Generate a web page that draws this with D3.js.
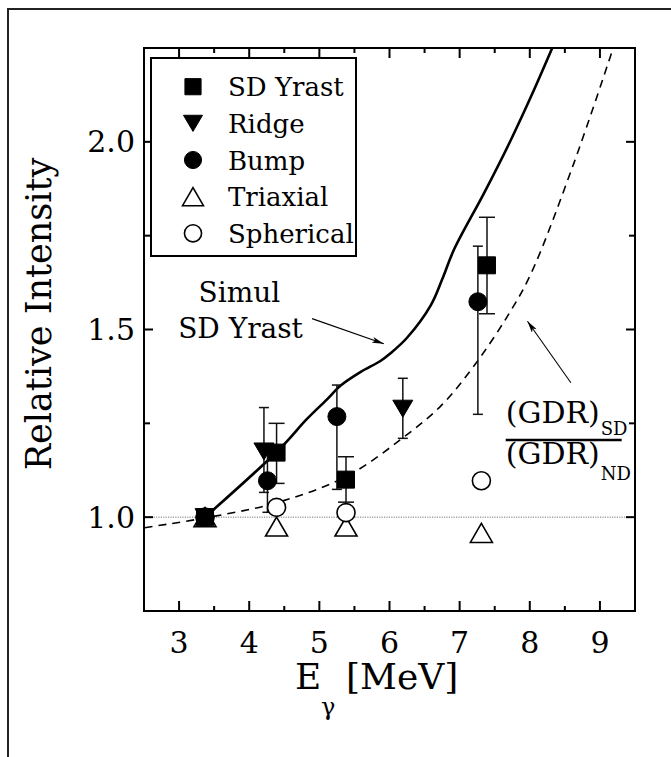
<!DOCTYPE html>
<html>
<head>
<meta charset="utf-8">
<script src="https://cdn.jsdelivr.net/npm/d3@7"></script>
</head>
<body style="margin:0">
<div id="chart"></div>
<script>
// Relative intensity vs gamma energy

const xMajorTicks = [3, 4, 5, 6, 7, 8, 9];
const xMinorTicks = [3.5, 4.5, 5.5, 6.5, 7.5, 8.5];
const yMajorTicks = [1.0, 1.5, 2.0];
const yMinorTicks = [1.25, 1.75];

const sdYrastX = [3.37, 4.39, 5.38, 7.39];
const sdYrastY = [1.0, 1.172, 1.10, 1.671];
const sdYrastLo = [null, 1.09, 1.04, 1.542];
const sdYrastHi = [null, 1.25, 1.161, 1.799];

const ridgeX = [3.37, 4.21, 6.19];
const ridgeY = [1.0, 1.175, 1.289];
const ridgeLo = [null, 1.066, 1.21];
const ridgeHi = [null, 1.292, 1.37];

const bumpX = [3.37, 4.26, 5.25, 7.26];
const bumpY = [1.0, 1.097, 1.268, 1.574];
const bumpLo = [null, 1.013, 1.074, 1.274];
const bumpHi = [null, 1.18, 1.352, 1.722];

const triaxialX = [3.37, 4.39, 5.38, 7.31];
const triaxialY = [1.0, 0.975, 0.975, 0.958];

const sphericalX = [3.37, 4.39, 5.38, 7.31];
const sphericalY = [1.0, 1.026, 1.012, 1.097];

// simulated SD yrast curve (solid)
const simulX = [3.37, 4.43, 4.82, 5.11, 5.30, 5.59, 5.87, 6.01, 6.25, 6.59, 6.75, 6.92, 7.35, 7.73, 8.04, 8.32];
const simulY = [1.0, 1.181, 1.261, 1.314, 1.350, 1.387, 1.416, 1.436, 1.478, 1.565, 1.633, 1.713, 1.864, 2.005, 2.13, 2.25];

// (GDR)SD / (GDR)ND ratio (dashed)
const gdrX = [2.51, 3.37, 4.40, 5.40, 6.16, 6.73, 7.20, 7.68, 8.01, 8.63, 9.18];
const gdrY = [0.972, 0.998, 1.039, 1.11, 1.207, 1.296, 1.402, 1.535, 1.646, 1.944, 2.245];

const legendLabels = ['SD Yrast', 'Ridge', 'Bump', 'Triaxial', 'Spherical'];
const legendKinds = ['square', 'triDown', 'circle', 'triUp', 'circleOpen'];

const FONT = '"DejaVu Serif"';
const W = 671, H = 757;
const margin = { top: 48, right: 36, bottom: 146, left: 144 };
const width = W - margin.left - margin.right;
const height = H - margin.top - margin.bottom;

const addText = (parent, size) => parent.append('text')
    .attr('font-size', size)
    .style('font-family', FONT);

const svg = d3.select('#chart').append('svg')
    .attr('width', W)
    .attr('height', H);

svg.append('rect').attr('width', W).attr('height', H).attr('fill', '#fff');

// outer page frame (top and left edges only)
svg.append('path')
    .attr('d', `M8,${H} L8,9 L${W},9`)
    .attr('fill', 'none')
    .attr('stroke', '#222')
    .attr('stroke-width', 2);

const x = d3.scaleLinear().domain([2.5, 9.5]).range([0, width]);
const y = d3.scaleLinear().domain([0.75, 2.25]).range([height, 0]);

const g = svg.append('g').attr('transform', `translate(${margin.left},${margin.top})`);

const defs = svg.append('defs');
defs.append('clipPath').attr('id', 'plotClip')
    .append('rect').attr('width', width).attr('height', height);
defs.append('marker')
    .attr('id', 'arrow')
    .attr('viewBox', '0 0 12 6')
    .attr('refX', 12).attr('refY', 3)
    .attr('markerWidth', 12).attr('markerHeight', 6)
    .attr('markerUnits', 'userSpaceOnUse')
    .attr('orient', 'auto')
    .append('path')
    .attr('d', 'M0,0 L12,3 L0,6 L3,3 Z')
    .attr('fill', '#000');

// symbol path centred on its bounding box
const symbolPath = (kind, s = 1) => {
    switch (kind) {
        case 'square': {
            const h = 8.5 * s;
            return `M${-h},${-h}H${h}V${h}H${-h}Z`;
        }
        case 'triDown': {
            const w = 10 * s, h = 8.5 * s;
            return `M${-w},${-h}L${w},${-h}L0,${h}Z`;
        }
        case 'triUp': {
            const w = 11 * s, h = 9.5 * s;
            return `M0,${-h}L${w},${h}L${-w},${h}Z`;
        }
        default: {
            const r = 9 * s;
            return `M${-r},0A${r},${r} 0 1,0 ${r},0A${r},${r} 0 1,0 ${-r},0Z`;
        }
    }
};

const styleSymbol = (sel, kind) => {
    const open = kind === 'triUp' || kind === 'circleOpen';
    sel.attr('fill', open ? '#fff' : '#000')
        .attr('stroke', '#000')
        .attr('stroke-width', open ? 1.6 : 1);
};

// y = 1.0 reference line
g.append('line')
    .attr('x1', 0).attr('x2', width)
    .attr('y1', y(1.0)).attr('y2', y(1.0))
    .attr('stroke', '#777')
    .attr('stroke-width', 1)
    .attr('stroke-dasharray', '1.2,1.2');

const plot = g.append('g').attr('clip-path', 'url(#plotClip)');

const line = d3.line()
    .x(d => x(d[0]))
    .y(d => y(d[1]))
    .curve(d3.curveCatmullRom.alpha(0.5));

plot.append('path')
    .datum(gdrX.map((v, i) => [v, gdrY[i]]))
    .attr('fill', 'none')
    .attr('stroke', '#000')
    .attr('stroke-width', 1.6)
    .attr('stroke-dasharray', '8,6')
    .attr('d', line);

plot.append('path')
    .datum(simulX.map((v, i) => [v, simulY[i]]))
    .attr('fill', 'none')
    .attr('stroke', '#000')
    .attr('stroke-width', 2.6)
    .attr('d', line);

// error bars
const errorSets = [
    { xs: sdYrastX, lo: sdYrastLo, hi: sdYrastHi, cap: 16 },
    { xs: ridgeX, lo: ridgeLo, hi: ridgeHi, cap: 10 },
    { xs: bumpX, lo: bumpLo, hi: bumpHi, cap: 10 }
];
errorSets.forEach(s => {
    s.xs.forEach((xv, i) => {
        if (s.lo[i] == null) return;
        const px = x(xv);
        const eg = g.append('g').attr('stroke', '#111').attr('stroke-width', 1.5);
        eg.append('line').attr('x1', px).attr('x2', px).attr('y1', y(s.lo[i])).attr('y2', y(s.hi[i]));
        [s.lo[i], s.hi[i]].forEach(v => {
            eg.append('line')
                .attr('x1', px - s.cap / 2).attr('x2', px + s.cap / 2)
                .attr('y1', y(v)).attr('y2', y(v));
        });
    });
});

// markers
const series = [
    { xs: triaxialX, ys: triaxialY, kind: 'triUp' },
    { xs: sphericalX, ys: sphericalY, kind: 'circleOpen' },
    { xs: sdYrastX, ys: sdYrastY, kind: 'square' },
    { xs: ridgeX, ys: ridgeY, kind: 'triDown' },
    { xs: bumpX, ys: bumpY, kind: 'circle' }
];
series.forEach(s => {
    g.selectAll(null)
        .data(s.xs.map((v, i) => [v, s.ys[i]]))
        .join('path')
        .attr('transform', d => `translate(${x(d[0])},${y(d[1])})`)
        .attr('d', symbolPath(s.kind))
        .call(styleSymbol, s.kind);
});

// axes frame
g.append('rect')
    .attr('width', width).attr('height', height)
    .attr('fill', 'none')
    .attr('stroke', '#000')
    .attr('stroke-width', 2);

const tickG = g.append('g').attr('stroke', '#000').attr('stroke-width', 2);
const addXTicks = (ticks, len) => ticks.forEach(t => {
    tickG.append('line').attr('x1', x(t)).attr('x2', x(t)).attr('y1', height).attr('y2', height - len);
    tickG.append('line').attr('x1', x(t)).attr('x2', x(t)).attr('y1', 0).attr('y2', len);
});
const addYTicks = (ticks, len) => ticks.forEach(t => {
    tickG.append('line').attr('x1', 0).attr('x2', len).attr('y1', y(t)).attr('y2', y(t));
    tickG.append('line').attr('x1', width).attr('x2', width - len).attr('y1', y(t)).attr('y2', y(t));
});
addXTicks(xMajorTicks, 10);
addXTicks(xMinorTicks, 5);
addYTicks(yMajorTicks, 9);
addYTicks(yMinorTicks, 6);

xMajorTicks.forEach(t => {
    addText(g, 30)
        .attr('x', x(t))
        .attr('y', height + 42)
        .attr('text-anchor', 'middle')
        .text(t);
});

yMajorTicks.forEach(t => {
    addText(g, 30)
        .attr('x', -9)
        .attr('y', y(t) + 10.5)
        .attr('text-anchor', 'end')
        .text(t.toFixed(1));
});

// axis titles
addText(svg, 35)
    .attr('transform', 'translate(51,314) rotate(-90)')
    .attr('text-anchor', 'middle')
    .text('Relative Intensity');

addText(svg, 36).attr('x', 295).attr('y', 689).text('E');
addText(svg, 24).attr('x', 321).attr('y', 715).text('γ');
addText(svg, 36).attr('x', 346).attr('y', 689).text('[MeV]');

// annotations
addText(g, 28)
    .attr('x', x(3.86)).attr('y', y(1.573))
    .attr('text-anchor', 'middle')
    .text('Simul');
addText(g, 28)
    .attr('x', x(3.876)).attr('y', y(1.478))
    .attr('text-anchor', 'middle')
    .text('SD Yrast');

g.append('line')
    .attr('x1', x(4.896)).attr('y1', y(1.529))
    .attr('x2', x(5.919)).attr('y2', y(1.462))
    .attr('stroke', '#000').attr('stroke-width', 1.1)
    .attr('marker-end', 'url(#arrow)');
g.append('line')
    .attr('x1', x(8.586)).attr('y1', y(1.358))
    .attr('x2', x(7.967)).attr('y2', y(1.522))
    .attr('stroke', '#000').attr('stroke-width', 1.1)
    .attr('marker-end', 'url(#arrow)');

// (GDR)SD / (GDR)ND fraction label
addText(g, 30).attr('x', x(7.657)).attr('y', y(1.252)).text('(GDR)');
addText(g, 18).attr('x', x(7.657) + 95).attr('y', y(1.252) + 12).text('SD');
g.append('line')
    .attr('x1', x(7.657)).attr('x2', x(9.31))
    .attr('y1', y(1.2056)).attr('y2', y(1.2056))
    .attr('stroke', '#000').attr('stroke-width', 2.5);
addText(g, 30).attr('x', x(7.657)).attr('y', y(1.141)).text('(GDR)');
addText(g, 18).attr('x', x(7.657) + 95).attr('y', y(1.141) + 16).text('ND');

// legend
const legend = svg.append('g');
legend.append('rect')
    .attr('x', 151).attr('y', 58)
    .attr('width', 205).attr('height', 198)
    .attr('fill', '#fff')
    .attr('stroke', '#000')
    .attr('stroke-width', 2);
legendLabels.forEach((label, i) => {
    const cy = 86.7 + i * 36.65;
    legend.append('path')
        .attr('transform', `translate(193,${cy})`)
        .attr('d', symbolPath(legendKinds[i], 0.95))
        .call(styleSymbol, legendKinds[i]);
    addText(legend, 26)
        .attr('x', 228)
        .attr('y', cy + 9.5)
        .text(label);
});
</script>
</body>
</html>
